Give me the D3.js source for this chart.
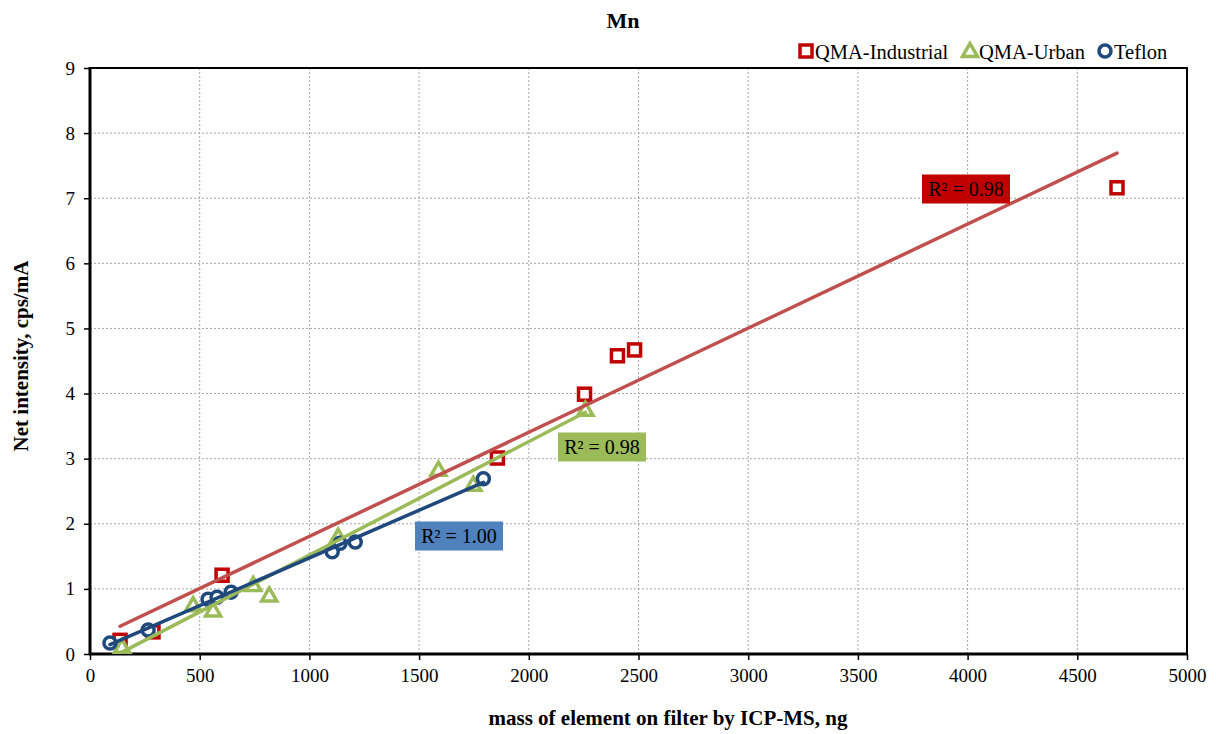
<!DOCTYPE html>
<html>
<head>
<meta charset="utf-8">
<script src="https://cdn.jsdelivr.net/npm/d3@7"></script>
<style>
  html, body { margin: 0; padding: 0; background: #fff; }
  svg { display: block; font-family: "Liberation Serif", "Times New Roman", serif; }
</style>
</head>
<body>
<svg id="chart" width="1216" height="734"></svg>
<script>
// Mn calibration: net intensity versus ICP-MS mass for three filter types
const seriesNames = ["QMA-Industrial", "QMA-Urban", "Teflon"];

const industrialX = [137, 287, 602, 1857, 2254, 2404, 2482, 4681];
const industrialY = [0.21, 0.34, 1.21, 3.01, 3.99, 4.58, 4.67, 7.16];

const urbanX = [146, 470, 561, 744, 817, 1131, 1588, 1747, 2258];
const urbanY = [0.11, 0.75, 0.67, 1.06, 0.90, 1.80, 2.83, 2.60, 3.75];

const teflonX = [91, 265, 538, 579, 643, 1104, 1140, 1209, 1793];
const teflonY = [0.17, 0.37, 0.84, 0.87, 0.95, 1.57, 1.70, 1.72, 2.69];

const r2Labels = ["R² = 0.98", "R² = 0.98", "R² = 1.00"];

const xTicks = [0, 500, 1000, 1500, 2000, 2500, 3000, 3500, 4000, 4500, 5000];
const yTicks = [0, 1, 2, 3, 4, 5, 6, 7, 8, 9];

const svg = d3.select("#chart");
const plotLeft = 90, plotRight = 1187, plotTop = 68, plotBottom = 654;

const x = d3.scaleLinear().domain([0, 5000]).range([plotLeft, plotRight]);
const y = d3.scaleLinear().domain([0, 9]).range([plotBottom, plotTop]);

// gridlines
const grid = svg.append("g");
grid.selectAll("line.v").data(xTicks.slice(1, -1)).join("line")
  .attr("x1", d => x(d)).attr("x2", d => x(d))
  .attr("y1", plotTop).attr("y2", plotBottom)
  .attr("stroke", "#a6a6a6").attr("stroke-width", 1).attr("stroke-dasharray", "2,2");
grid.selectAll("line.h").data(yTicks.slice(1, -1)).join("line")
  .attr("y1", d => y(d)).attr("y2", d => y(d))
  .attr("x1", plotLeft).attr("x2", plotRight)
  .attr("stroke", "#a6a6a6").attr("stroke-width", 1).attr("stroke-dasharray", "2,2");

// axes
const xAxis = d3.axisBottom(x).tickValues(xTicks).tickSize(6).tickPadding(9).tickFormat(d3.format("d"));
const yAxis = d3.axisLeft(y).tickValues(yTicks).tickSize(6).tickPadding(9).tickFormat(d3.format("d"));

const gx = svg.append("g").attr("transform", `translate(0,${plotBottom})`).call(xAxis);
const gy = svg.append("g").attr("transform", `translate(${plotLeft},0)`).call(yAxis);
[gx, gy].forEach(g => {
  g.select(".domain").remove();
  g.selectAll(".tick line").attr("stroke", "#000").attr("stroke-width", 1.5);
  g.selectAll(".tick text").attr("fill", "#000")
    .style("font-family", "'Liberation Serif', serif").style("font-size", "19px");
});

// plot frame
svg.append("rect").attr("x", plotLeft).attr("y", plotTop)
  .attr("width", plotRight - plotLeft).attr("height", plotBottom - plotTop)
  .attr("fill", "none").attr("stroke", "#000").attr("stroke-width", 2);
svg.append("line").attr("x1", plotLeft).attr("x2", plotLeft).attr("y1", plotTop - 1).attr("y2", plotBottom + 1)
  .attr("stroke", "#000").attr("stroke-width", 3);
svg.append("line").attr("x1", plotLeft - 1).attr("x2", plotRight + 1).attr("y1", plotBottom).attr("y2", plotBottom)
  .attr("stroke", "#000").attr("stroke-width", 3);

// least-squares trend over each series' own x range
function fit(xs, ys) {
  const mx = d3.mean(xs), my = d3.mean(ys);
  const sxy = d3.sum(xs, (v, i) => (v - mx) * (ys[i] - my));
  const sxx = d3.sum(xs, v => (v - mx) * (v - mx));
  const m = sxy / sxx, b = my - m * mx;
  const [x0, x1] = d3.extent(xs);
  return [[x0, m * x0 + b], [x1, m * x1 + b]];
}

const series = [
  { xs: industrialX, ys: industrialY, marker: "#c00000", line: "#c0504d", shape: "square", box: "#c00000" },
  { xs: urbanX, ys: urbanY, marker: "#9bbb59", line: "#9bbb59", shape: "triangle", box: "#9bbb59" },
  { xs: teflonX, ys: teflonY, marker: "#1f497d", line: "#1f497d", shape: "circle", box: "#4f81bd" }
];

const lineGen = d3.line().x(d => x(d[0])).y(d => y(d[1]));

function drawMarker(g, shape, color, cx, cy) {
  if (shape === "square") {
    g.append("rect").attr("x", cx - 6).attr("y", cy - 6).attr("width", 12).attr("height", 12)
      .attr("fill", "#fff").attr("stroke", color).attr("stroke-width", 3.5);
  } else if (shape === "triangle") {
    g.append("path").attr("d", `M${cx},${cy - 7.5}L${cx + 7.5},${cy + 5.5}L${cx - 7.5},${cy + 5.5}Z`)
      .attr("fill", "#fff").attr("stroke", color).attr("stroke-width", 3.5).attr("stroke-linejoin", "miter");
  } else {
    g.append("circle").attr("cx", cx).attr("cy", cy).attr("r", 6)
      .attr("fill", "#fff").attr("stroke", color).attr("stroke-width", 3.5);
  }
}

// markers first, then trendlines on top
const marks = svg.append("g");
series.forEach(s => {
  s.xs.forEach((v, i) => drawMarker(marks, s.shape, s.marker, x(v), y(s.ys[i])));
});
const trends = svg.append("g");
series.forEach(s => {
  trends.append("path").attr("d", lineGen(fit(s.xs, s.ys)))
    .attr("fill", "none").attr("stroke", s.line).attr("stroke-width", 3.5).attr("stroke-linecap", "round");
});

// R² labels
const r2Pos = [[966, 189], [602, 447], [459, 536]];
r2Pos.forEach((p, i) => {
  const g = svg.append("g");
  g.append("rect").attr("x", p[0] - 44).attr("y", p[1] - 14.5).attr("width", 88).attr("height", 29)
    .attr("fill", series[i].box);
  g.append("text").attr("x", p[0]).attr("y", p[1] + 7).attr("text-anchor", "middle")
    .style("font-size", "20px").attr("fill", "#000").text(r2Labels[i]);
});

// legend
const legendItems = [[806, seriesNames[0]], [970, seriesNames[1]], [1105, seriesNames[2]]];
legendItems.forEach((it, i) => {
  const g = svg.append("g");
  drawMarker(g, series[i].shape, series[i].marker, it[0], 51);
  g.append("text").attr("x", it[0] + 9).attr("y", 58.5).style("font-size", "20.5px").text(it[1]);
});

// titles
svg.append("text").attr("x", 623).attr("y", 28).attr("text-anchor", "middle")
  .style("font-size", "22px").style("font-weight", "bold").text("Mn");
svg.append("text").attr("x", 668).attr("y", 725).attr("text-anchor", "middle")
  .style("font-size", "21px").style("font-weight", "bold").text("mass of element on filter by ICP-MS, ng");
svg.append("text").attr("transform", "translate(28,356) rotate(-90)").attr("text-anchor", "middle")
  .style("font-size", "21px").style("font-weight", "bold").text("Net intensity, cps/mA");
</script>
</body>
</html>
